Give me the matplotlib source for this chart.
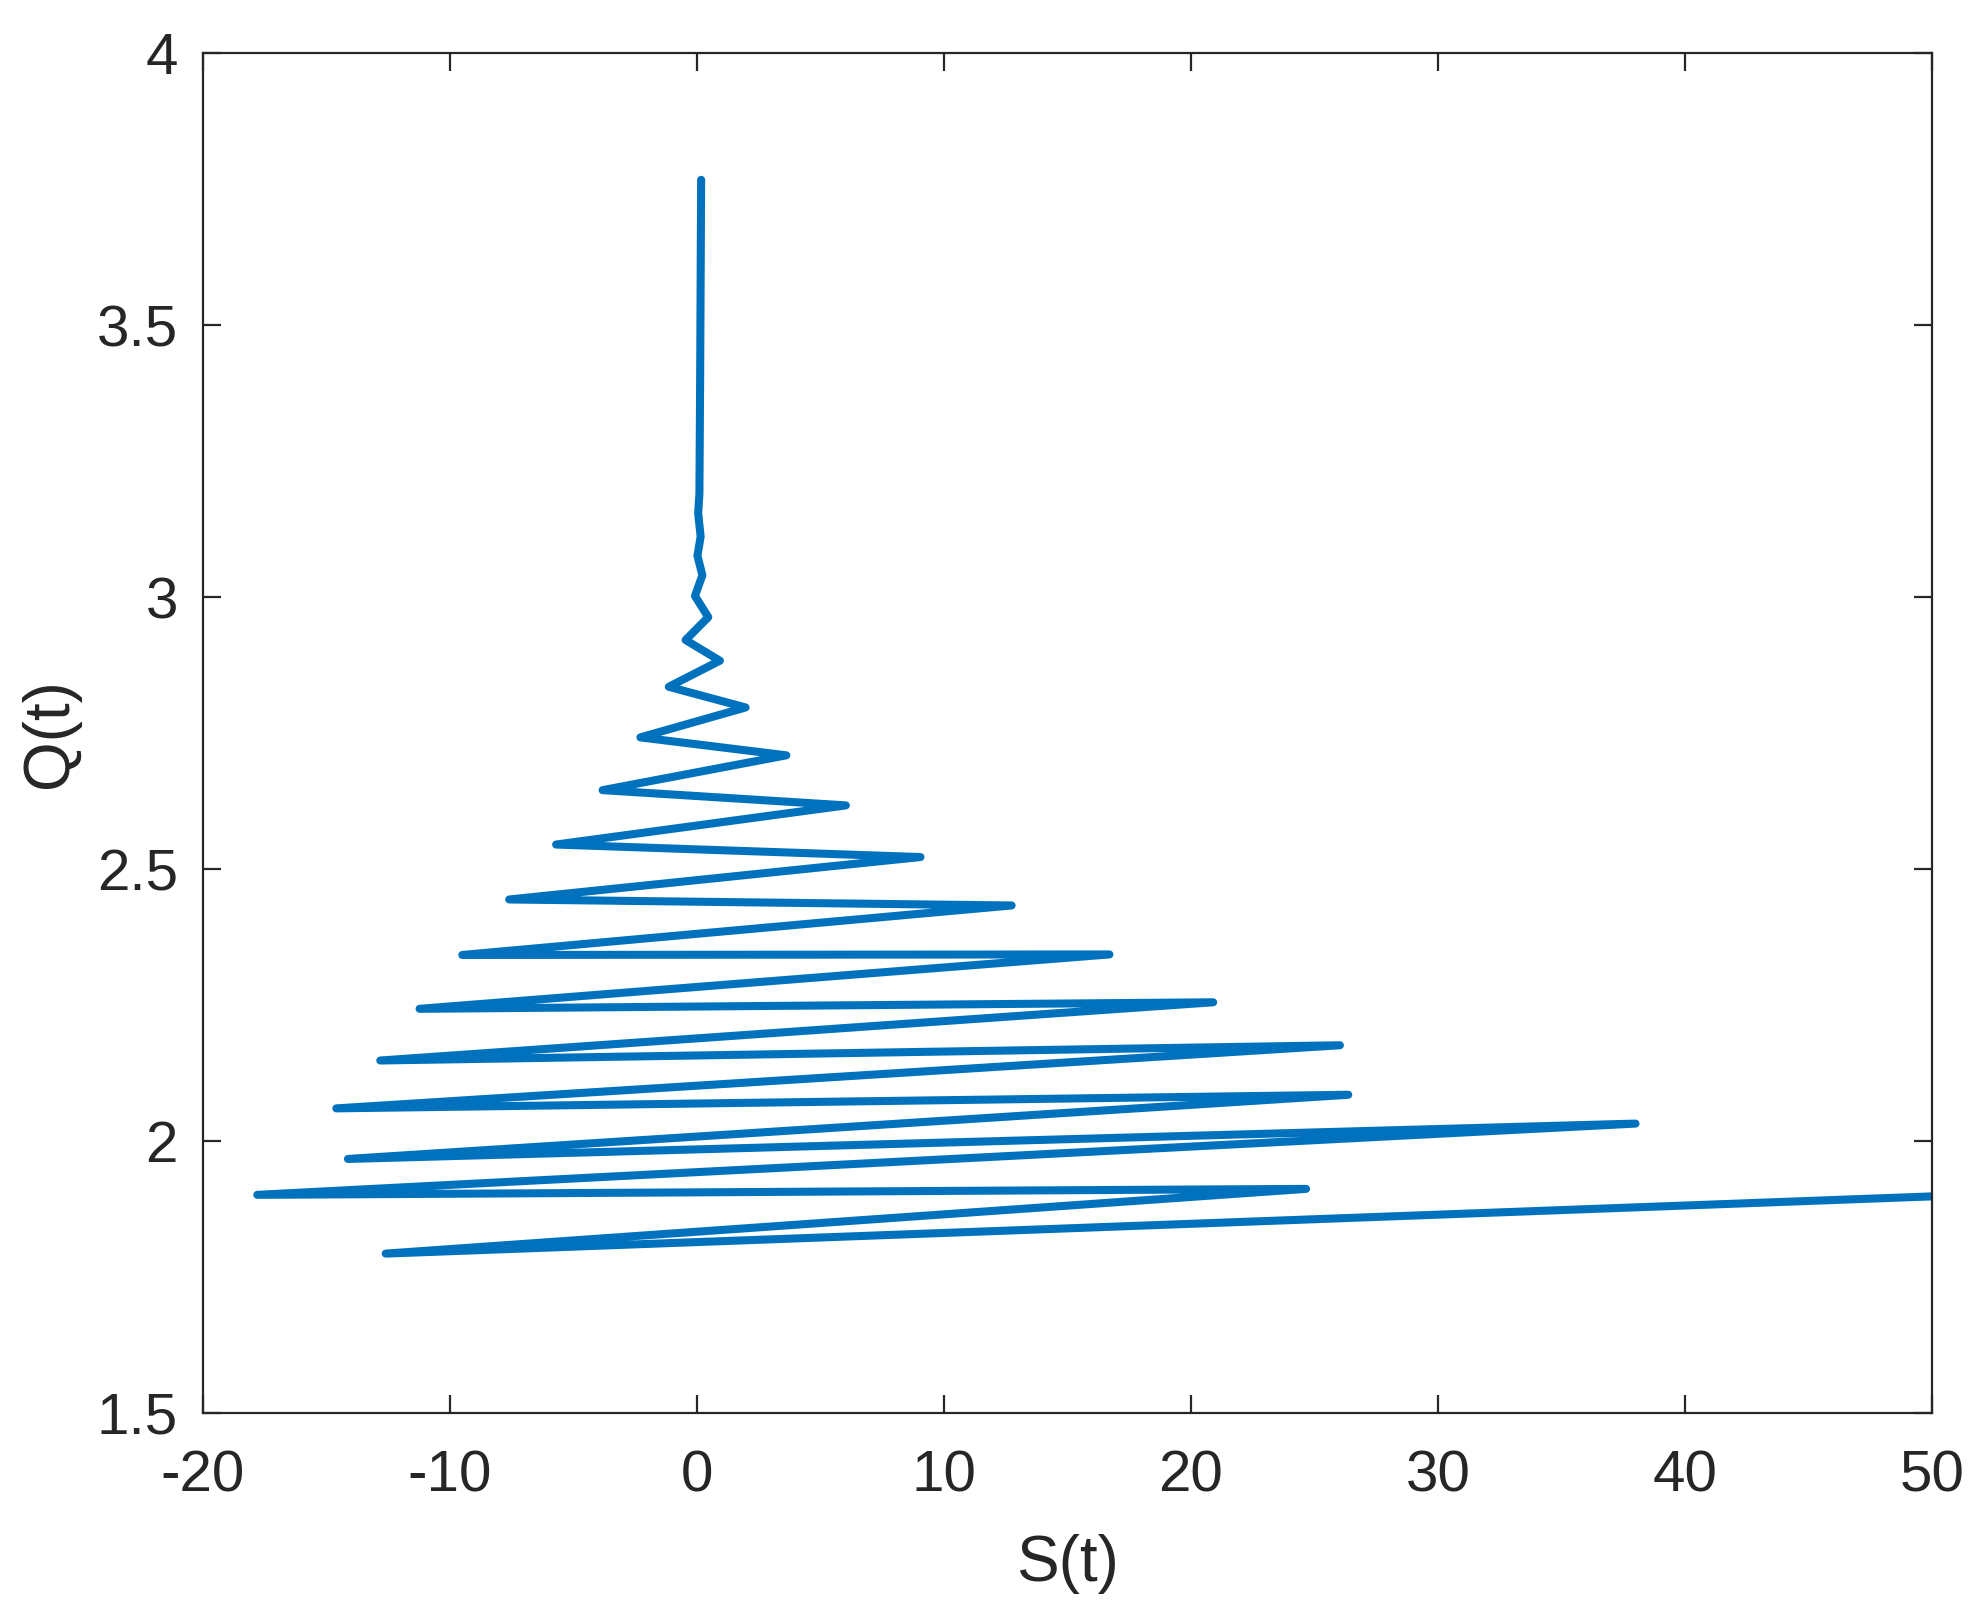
import matplotlib
matplotlib.use("Agg")
import matplotlib.pyplot as plt

# trajectory S(t), Q(t)
s_vals = [0.17, 0.13, 0.10, 0.05, 0.15, 0.02, 0.22, -0.08, 0.46, -0.46,
          0.93, -1.14, 1.97, -2.29, 3.62, -3.82, 6.03, -5.70, 9.05, -7.60,
          12.74, -9.50, 16.70, -11.23, 20.90, -12.82, 26.03, -14.60, 26.37, -14.13,
          38.00, -17.80, 24.66, -12.60, 60.00]
q_vals = [3.767, 3.40, 3.19, 3.154, 3.111, 3.076, 3.040, 3.002, 2.963, 2.921,
          2.883, 2.835, 2.797, 2.742, 2.709, 2.645, 2.617, 2.545, 2.522, 2.444,
          2.433, 2.342, 2.343, 2.243, 2.255, 2.148, 2.176, 2.060, 2.085, 1.967,
          2.032, 1.901, 1.912, 1.793, 1.915]

x_ticks = [-20, -10, 0, 10, 20, 30, 40, 50]
x_tick_labels = ["-20", "-10", "0", "10", "20", "30", "40", "50"]
y_ticks = [1.5, 2, 2.5, 3, 3.5, 4]
y_tick_labels = ["1.5", "2", "2.5", "3", "3.5", "4"]

plt.rcParams["font.family"] = ["Liberation Sans", "DejaVu Sans"]
plt.rcParams["axes.unicode_minus"] = False

ink = "#262626"
fig = plt.figure(figsize=(9.87, 8.115), dpi=200)
ax = fig.add_axes([0.1028, 0.1294, 0.8759, 0.8379])

ax.plot(s_vals, q_vals, color="#0072BD", linewidth=2.9,
        solid_joinstyle="round", solid_capstyle="round")

ax.set_xlim(-20, 50)
ax.set_ylim(1.5, 4)
ax.set_xticks(x_ticks)
ax.set_xticklabels(x_tick_labels)
ax.set_yticks(y_ticks)
ax.set_yticklabels(y_tick_labels)

for side in ax.spines.values():
    side.set_color(ink)
    side.set_linewidth(0.8)
ax.tick_params(axis="both", direction="in", length=6.5, width=0.8,
               colors=ink, labelsize=21, top=True, right=True)
ax.tick_params(axis="x", pad=13)
ax.tick_params(axis="y", pad=9)

ax.set_xlabel("S(t)", fontsize=23, color=ink, labelpad=11)
ax.set_ylabel("Q(t)", fontsize=23, color=ink, labelpad=6)

fig.savefig("out.png", dpi=200)
